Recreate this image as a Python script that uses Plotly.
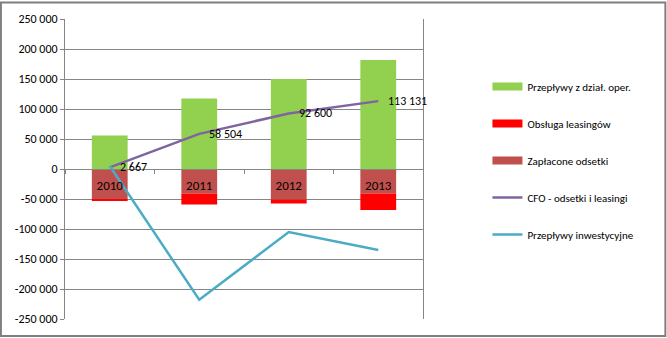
import plotly.graph_objects as go

# Cash-flow components per year
years = ["2010", "2011", "2012", "2013"]
operating_cf = [56000, 117500, 150000, 181500]       # Przepływy z dział. oper.
interest_paid = [-50000, -41000, -51000, -41000]     # Zapłacone odsetki
leasing_service = [-3333, -17996, -6400, -27369]     # Obsługa leasingów
cfo_net = [2667, 58504, 92600, 113131]               # CFO - odsetki i leasingi
investing_cf = [5000, -218000, -105000, -135000]     # Przepływy inwestycyjne

y_ticks = [250000, 200000, 150000, 100000, 50000, 0,
           -50000, -100000, -150000, -200000, -250000]


def fmt(v):
    return f"{v:,}".replace(",", " ")


FONT = "Carlito, Lato, Liberation Sans, sans-serif"
GRID = "#868686"

GREEN, RED, BROWN = "#92D050", "#FF0000", "#C0504D"
PURPLE, CYAN = "#8064A2", "#4BACC6"

fig = go.Figure()

# Stacked columns (legend entries are drawn by the swatch traces below)
fig.add_trace(go.Bar(x=years, y=operating_cf, name="Przepływy z dział. oper.",
                     marker=dict(color=GREEN, line=dict(width=0)), showlegend=False))
fig.add_trace(go.Bar(x=years, y=interest_paid, name="Zapłacone odsetki",
                     marker=dict(color=BROWN, line=dict(width=0)), showlegend=False))
fig.add_trace(go.Bar(x=years, y=leasing_service, name="Obsługa leasingów",
                     marker=dict(color=RED, line=dict(width=0)), showlegend=False))

# Lines
fig.add_trace(go.Scatter(
    x=years, y=cfo_net, name="CFO - odsetki i leasingi", mode="lines",
    line=dict(color=PURPLE, width=2.5), legendgroup="d", legendrank=4,
))
fig.add_trace(go.Scatter(
    x=years, y=investing_cf, name="Przepływy inwestycyjne", mode="lines",
    line=dict(color=CYAN, width=2.5), legendgroup="e", legendrank=5,
))

# Wide rectangular legend swatches for the column series
for name, color, grp, rank in [
    ("Przepływy z dział. oper.", GREEN, "a", 1),
    ("Obsługa leasingów", RED, "b", 2),
    ("Zapłacone odsetki", BROWN, "c", 3),
]:
    fig.add_trace(go.Scatter(
        x=[None], y=[None], mode="lines", name=name,
        line=dict(color=color, width=8), legendgroup=grp, legendrank=rank,
        hoverinfo="skip",
    ))

# Value labels for the net CFO line
for i, v in enumerate(cfo_net):
    fig.add_annotation(
        x=i, y=v, xref="x", yref="y", text=fmt(v), showarrow=False,
        xanchor="left", yanchor="middle", xshift=8,
        font=dict(family=FONT, size=12, color="#000000"),
    )

# Outer chart border
fig.add_shape(
    type="rect", xref="paper", yref="paper",
    x0=-0.179, x1=1.677, y0=-0.057, y1=1.055,
    line=dict(color="#7F7F7F", width=2), layer="below",
)

fig.update_layout(
    width=667, height=338,
    margin=dict(l=65, r=244, t=17, b=18),
    paper_bgcolor="#FFFFFF", plot_bgcolor="#FFFFFF",
    barmode="relative", bargap=0.6,
    font=dict(family=FONT, size=11, color="#000000"),
    showlegend=True,
    legend=dict(
        x=1.18, xanchor="left", y=0.823, yanchor="top",
        traceorder="grouped", tracegroupgap=18,
        font=dict(family=FONT, size=11, color="#000000"),
        bgcolor="rgba(0,0,0,0)",
    ),
    xaxis=dict(
        type="category", categoryorder="array", categoryarray=years,
        range=[-0.5, 3.5],
        anchor="free", position=0.5,
        showline=True, linecolor=GRID, linewidth=1,
        ticks="outside", tickson="boundaries", ticklen=4, tickcolor=GRID,
        showgrid=False, zeroline=False,
        tickfont=dict(family=FONT, size=13, color="#000000"),
        ticklabelstandoff=4,
    ),
    yaxis=dict(
        range=[-250000, 250000],
        tickvals=y_ticks, ticktext=[fmt(v) for v in y_ticks],
        showgrid=True, gridcolor=GRID, gridwidth=1,
        zeroline=False,
        showline=True, linecolor=GRID, linewidth=1, mirror=True,
        ticks="outside", ticklen=4, tickcolor=GRID,
        tickfont=dict(family=FONT, size=12, color="#000000"),
    ),
)

fig.write_html("out.html")
